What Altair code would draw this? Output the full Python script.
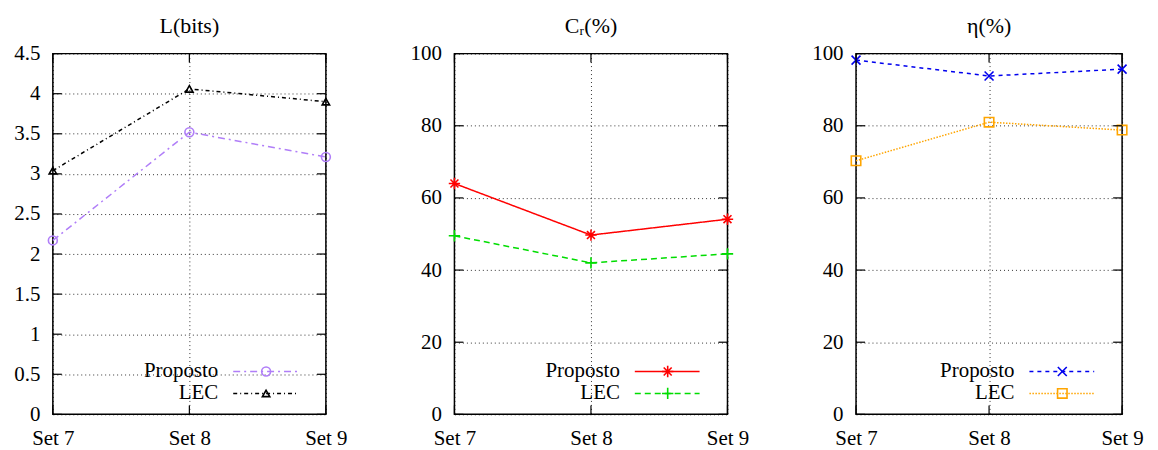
import altair as alt
import pandas as pd

sets = ["Set 7", "Set 8", "Set 9"]

L_proposto = [2.17, 3.52, 3.21]
L_lec = [3.04, 4.06, 3.90]
Cr_proposto = [64.0, 49.7, 54.1]
Cr_lec = [49.5, 42.0, 44.5]
eta_proposto = [98.2, 93.8, 95.7]
eta_lec = [70.3, 81.0, 78.8]

L_ticks = [0, 0.5, 1, 1.5, 2, 2.5, 3, 3.5, 4, 4.5]
pct_ticks = [0, 20, 40, 60, 80, 100]

FONT = "Liberation Serif"
FS = 21
FS_T = 22
FS_L = 21
H = 362

ASTER = "M-1,0L1,0M0,-1L0,1M-0.7,-0.7L0.7,0.7M-0.7,0.7L0.7,-0.7"
PLUS = "M-1,0L1,0M0,-1L0,1"
XSYM = "M-1,-1L1,1M-1,1L1,-1"


def panel(title, series, ydom, yticks, width):
    xs = alt.Scale(type="point", domain=sets, padding=0)
    ys = alt.Scale(domain=ydom, nice=False, zero=False)
    xenc = alt.X("set:N", scale=xs, sort=sets,
                 axis=alt.Axis(title=None, labelAngle=0, grid=True, domain=False,
                               ticks=False, labelPadding=13, labelFont=FONT,
                               labelFontSize=FS, labelColor="black",
                               gridColor="black", gridDash=[1, 3], gridWidth=1,
                               gridOpacity=0.8))
    yenc = alt.Y("v:Q", scale=ys,
                 axis=alt.Axis(title=None, values=yticks, grid=True, domain=False,
                               ticks=False, labelPadding=13, format="~r", labelFont=FONT,
                               labelFontSize=FS, labelColor="black",
                               gridColor="black", gridDash=[1, 3], gridWidth=1,
                               gridOpacity=0.8))
    layers = []
    first = True
    for i, s in enumerate(series):
        df = pd.DataFrame({"set": sets, "v": s["vals"]})
        line = alt.Chart(df).mark_line(color=s["color"], strokeWidth=1.5,
                                       strokeDash=s["dash"]).encode(
            x=xenc if first else alt.X("set:N", scale=xs, sort=sets),
            y=yenc if first else alt.Y("v:Q", scale=ys))
        first = False
        pt = alt.Chart(df).mark_point(shape=s["shape"], size=s["size"], filled=False,
                                      color=s["color"], strokeWidth=1.6, opacity=1).encode(
            x=alt.X("set:N", scale=xs, sort=sets), y=alt.Y("v:Q", scale=ys))
        layers += [line, pt]
        # legend entry
        ly = H - 43 + 22 * i
        ldf = pd.DataFrame({"label": [s["label"]]})
        layers.append(alt.Chart(ldf).mark_text(align="right", baseline="middle", font=FONT,
                                               fontSize=FS_L, color="black").encode(
            text="label:N", x=alt.value(width - 108), y=alt.value(ly)))
        layers.append(alt.Chart(ldf).mark_rule(color=s["color"], strokeWidth=1.5,
                                               strokeDash=s["dash"]).encode(
            x=alt.value(width - 93), x2=alt.value(width - 28), y=alt.value(ly)))
        layers.append(alt.Chart(ldf).mark_point(shape=s["shape"], size=s["size"], filled=False,
                                                color=s["color"], strokeWidth=1.6,
                                                opacity=1).encode(
            x=alt.value(width - 60), y=alt.value(ly)))

    # inward ticks (gnuplot style)
    tdf = pd.DataFrame({"v": yticks})
    for x1, x2 in [(0, 9), (width - 9, width)]:
        layers.append(alt.Chart(tdf).mark_rule(color="black", strokeWidth=1.2).encode(
            y=alt.Y("v:Q", scale=ys), x=alt.value(x1), x2=alt.value(x2)))
    sdf = pd.DataFrame({"set": sets})
    for y1, y2 in [(0, 9), (H - 9, H)]:
        layers.append(alt.Chart(sdf).mark_rule(color="black", strokeWidth=1.2).encode(
            x=alt.X("set:N", scale=xs, sort=sets), y=alt.value(y1), y2=alt.value(y2)))

    return alt.layer(*layers).properties(
        width=width, height=H,
        title=alt.TitleParams(text=title, font=FONT, fontSize=FS_T, fontWeight="normal",
                              color="black", offset=5))


p1 = panel("L(bits)", [
    dict(label="Proposto", vals=L_proposto, color="#b07ef8", dash=[7, 4, 2, 4],
         shape="circle", size=80),
    dict(label="LEC", vals=L_lec, color="black", dash=[4, 3, 1, 3],
         shape="triangle-up", size=55),
], [0, 4.5], L_ticks, 274)

p2 = panel("Cᵣ(%)", [
    dict(label="Proposto", vals=Cr_proposto, color="#ff0000", dash=[1, 0],
         shape=ASTER, size=130),
    dict(label="LEC", vals=Cr_lec, color="#00dd00", dash=[6, 4],
         shape=PLUS, size=130),
], [0, 100], pct_ticks, 274)

p3 = panel("η(%)", [
    dict(label="Proposto", vals=eta_proposto, color="#0000ee", dash=[4, 4],
         shape=XSYM, size=80),
    dict(label="LEC", vals=eta_lec, color="#ffa500", dash=[1.5, 1.5],
         shape="square", size=90),
], [0, 100], pct_ticks, 267)

chart = alt.hconcat(p1, p2, p3, spacing=129, bounds="flush").configure(
    font=FONT
).configure_title(
    font=FONT, fontSize=FS_T, fontWeight="normal", color="black"
).configure_text(
    font=FONT
).configure_view(
    stroke="black", strokeWidth=1.5
)

chart.save("out.html", embed_options={"renderer": "svg", "actions": False})
